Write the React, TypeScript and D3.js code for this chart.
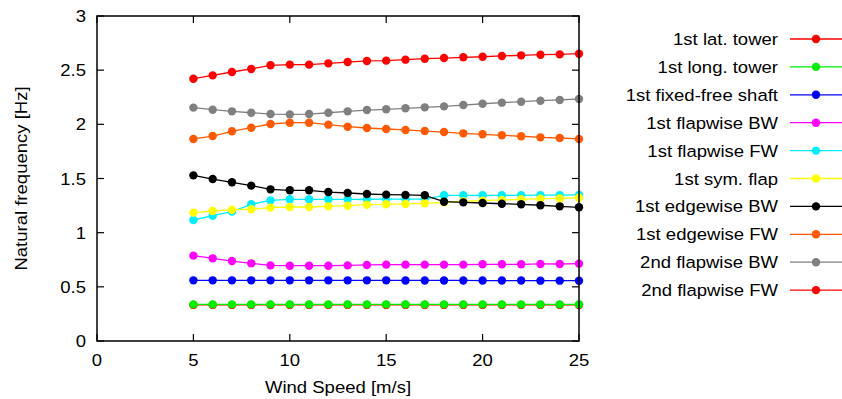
import React from 'react';
import * as d3 from 'd3';

const windSpeeds = [5, 6, 7, 8, 9, 10, 11, 12, 13, 14, 15, 16, 17, 18, 19, 20, 21, 22, 23, 24, 25];

const latTower = [0.333, 0.333, 0.333, 0.333, 0.333, 0.333, 0.333, 0.333, 0.333, 0.333, 0.333, 0.333, 0.333, 0.333, 0.333, 0.333, 0.333, 0.333, 0.333, 0.333, 0.333];
const longTower = [0.338, 0.338, 0.338, 0.338, 0.338, 0.338, 0.338, 0.338, 0.338, 0.338, 0.338, 0.338, 0.338, 0.338, 0.338, 0.338, 0.338, 0.338, 0.338, 0.338, 0.338];
const fixedFreeShaft = [0.56, 0.56, 0.56, 0.56, 0.56, 0.56, 0.56, 0.56, 0.56, 0.56, 0.56, 0.559, 0.559, 0.559, 0.559, 0.558, 0.558, 0.558, 0.557, 0.557, 0.557];
const flapBW1 = [0.788, 0.763, 0.738, 0.717, 0.698, 0.695, 0.695, 0.695, 0.698, 0.702, 0.705, 0.705, 0.705, 0.705, 0.705, 0.708, 0.708, 0.708, 0.711, 0.711, 0.714];
const flapFW1 = [1.117, 1.157, 1.194, 1.262, 1.298, 1.308, 1.308, 1.308, 1.308, 1.308, 1.31, 1.31, 1.31, 1.345, 1.345, 1.345, 1.345, 1.345, 1.346, 1.347, 1.348];
const symFlap = [1.185, 1.2, 1.212, 1.216, 1.231, 1.237, 1.237, 1.243, 1.249, 1.258, 1.262, 1.265, 1.271, 1.28, 1.29, 1.296, 1.302, 1.308, 1.314, 1.317, 1.323];
const edgeBW1 = [1.529, 1.495, 1.465, 1.434, 1.4, 1.391, 1.391, 1.375, 1.366, 1.357, 1.351, 1.348, 1.345, 1.286, 1.28, 1.274, 1.267, 1.262, 1.253, 1.243, 1.234];
const edgeFW1 = [1.865, 1.892, 1.936, 1.969, 2.003, 2.015, 2.015, 1.997, 1.978, 1.966, 1.957, 1.948, 1.938, 1.929, 1.917, 1.908, 1.899, 1.89, 1.88, 1.874, 1.865];
const flapBW2 = [2.154, 2.135, 2.12, 2.107, 2.095, 2.092, 2.095, 2.107, 2.12, 2.132, 2.139, 2.148, 2.157, 2.166, 2.178, 2.19, 2.2, 2.209, 2.218, 2.225, 2.234];
const flapFW2 = [2.421, 2.452, 2.483, 2.511, 2.545, 2.551, 2.551, 2.563, 2.575, 2.585, 2.588, 2.597, 2.606, 2.612, 2.619, 2.624, 2.631, 2.637, 2.643, 2.646, 2.652];

const seriesNames = [
  '1st lat. tower', '1st long. tower', '1st fixed-free shaft', '1st flapwise BW', '1st flapwise FW',
  '1st sym. flap', '1st edgewise BW', '1st edgewise FW', '2nd flapwise BW', '2nd flapwise FW',
];
const seriesValues = [latTower, longTower, fixedFreeShaft, flapBW1, flapFW1, symFlap, edgeBW1, edgeFW1, flapBW2, flapFW2];
const colors = ['#ff0000', '#00ee00', '#0000ff', '#ff00ff', '#00eeff', '#ffff00', '#000000', '#ff5a00', '#808080', '#ff0000'];

const xTicks = [0, 5, 10, 15, 20, 25];
const yTicks = [0, 0.5, 1, 1.5, 2, 2.5, 3];

const W = 842, H = 399;
const plot = { left: 97, right: 579, top: 16, bottom: 341 };
const font = '"Liberation Sans", Arial, sans-serif';

// the reference text is a bit wider than plain Arial at this size
function Label(props: { x: number; y: number; anchor: string; rotate?: number; children: React.ReactNode }) {
  const { x, y, anchor, rotate = 0, children } = props;
  return (
    <text transform={`translate(${x}, ${y}) rotate(${rotate}) scale(1.09, 1)`} textAnchor={anchor} fontSize={17}>
      {children}
    </text>
  );
}

export default function App() {
  const x = d3.scaleLinear().domain([0, 25]).range([plot.left, plot.right]);
  const y = d3.scaleLinear().domain([0, 3]).range([plot.bottom, plot.top]);
  const line = d3.line<number>().x((_, i) => x(windSpeeds[i])).y(d => y(d));
  const tick = 7;

  return (
    <svg width={W} height={H} style={{ position: 'absolute', left: 0, top: 0 }} fontFamily={font}>
      <rect width={W} height={H} fill="#fff" />
      {seriesValues.map((vals, s) => (
        <g key={s}>
          <path d={line(vals) || ''} fill="none" stroke={colors[s]} strokeWidth={1.3} />
          {vals.map((v, i) => (
            <circle key={i} cx={x(windSpeeds[i])} cy={y(v)} r={4.2} fill={colors[s]} />
          ))}
        </g>
      ))}
      {/* frame */}
      <rect x={plot.left} y={plot.top} width={plot.right - plot.left} height={plot.bottom - plot.top}
        fill="none" stroke="#000" strokeWidth={1.5} />
      {xTicks.map(t => (
        <g key={'x' + t}>
          <line x1={x(t)} x2={x(t)} y1={plot.bottom} y2={plot.bottom - tick} stroke="#000" strokeWidth={1.2} />
          <line x1={x(t)} x2={x(t)} y1={plot.top} y2={plot.top + tick} stroke="#000" strokeWidth={1.2} />
          <Label x={x(t)} y={366} anchor="middle">{t}</Label>
        </g>
      ))}
      {yTicks.map(t => (
        <g key={'y' + t}>
          <line x1={plot.left} x2={plot.left + tick} y1={y(t)} y2={y(t)} stroke="#000" strokeWidth={1.2} />
          <line x1={plot.right} x2={plot.right - tick} y1={y(t)} y2={y(t)} stroke="#000" strokeWidth={1.2} />
          <Label x={86} y={y(t) + 6} anchor="end">{t}</Label>
        </g>
      ))}
      <Label x={(plot.left + plot.right) / 2} y={393} anchor="middle">Wind Speed [m/s]</Label>
      <Label x={27} y={(plot.top + plot.bottom) / 2} anchor="middle" rotate={-90}>Natural frequency [Hz]</Label>
      {/* legend */}
      {seriesNames.map((name, s) => {
        const cy = 39 + s * 27.9;
        return (
          <g key={'l' + s}>
            <Label x={778} y={cy + 6} anchor="end">{name}</Label>
            <line x1={790} x2={842} y1={cy} y2={cy} stroke={colors[s]} strokeWidth={1.3} />
            <circle cx={816} cy={cy} r={4.2} fill={colors[s]} />
          </g>
        );
      })}
    </svg>
  );
}
